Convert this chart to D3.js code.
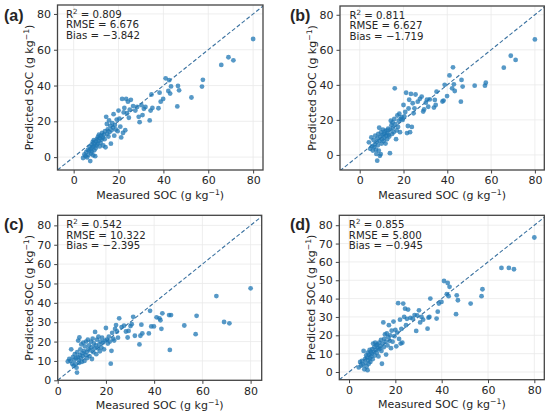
<!DOCTYPE html>
<html>
<head>
<meta charset="utf-8">
<script src="https://cdn.jsdelivr.net/npm/d3@7"></script>
<style>
  html, body { margin: 0; padding: 0; background: #fff; }
  svg { display: block; }
  text { font-family: "DejaVu Sans", sans-serif; fill: #262626; }
</style>
</head>
<body>
<svg id="chart" width="550" height="415"></svg>
<script>
// ---- data ----
const measured = [
  4.2,4.8,5.3,5.6,6.0,6.3,6.6,6.9,7.1,7.4,7.6,7.8,8.0,8.1,8.3,8.5,8.7,8.9,9.0,9.2,9.4,9.6,9.8,10.0,10.2,10.4,
  10.6,10.9,11.1,11.3,11.6,11.8,12.0,12.2,12.5,12.7,13.0,13.2,13.5,13.8,14.0,14.2,14.5,14.8,15.0,15.2,15.5,15.8,16.0,
  16.3,16.6,16.9,17.2,17.5,17.8,18.1,18.4,18.8,19.2,19.6,20.0,20.4,20.8,21.2,21.6,22.0,22.3,22.6,23.0,23.4,23.8,24.2,24.6,25.0,25.5,
  26.5,27.5,28.3,29.0,29.4,30.2,30.7,31.3,32.0,33.9,34.3,34.7,35.1,37.8,38.3,38.8,39.9,41.0,42.2,42.6,43.0,43.4,46.2,46.5,47.0,
  52.5,57.2,57.6,65.8,69.0,71.2,80.0
];
const predictedA = [
  -0.5,1.5,0.5,2.8,-0.2,4.0,1.2,3.5,5.8,-2.2,4.5,2.0,7.0,3.2,5.5,8.5,1.0,6.2,9.5,3.8,7.5,0.5,5.0,8.8,6.5,10.2,
  7.5,11.5,9.0,12.5,6.0,10.5,8.0,12.0,9.8,13.5,11.0,6.5,12.5,10.0,14.5,5.5,22.5,18.5,13.0,15.5,11.5,20.5,14.0,
  17.5,7.5,15.0,19.0,16.5,24.0,12.0,18.0,15.5,21.0,14.5,26.0,21.5,17.0,11.0,32.5,13.5,25.0,27.5,15.0,32.5,24.5,31.0,22.0,26.5,32.0,
  28.5,26.0,28.0,22.5,19.5,29.0,23.5,27.0,28.0,20.5,26.0,35.0,27.5,27.3,36.0,31.0,32.5,44.0,37.0,43.0,35.5,39.5,28.3,39.8,37.3,
  33.3,39.4,43.2,51.5,55.8,54.1,66.0
];
const predictedB = [
  7.2,3.5,10.0,5.0,2.5,8.5,4.5,6.0,11.0,3.0,0.6,7.5,-3.3,9.5,5.5,12.0,2.5,15.5,8.0,-0.5,10.5,0.5,13.0,6.5,9.0,11.5,
  14.5,8.0,12.0,10.0,13.5,6.5,11.0,14.0,9.0,12.5,15.0,11.5,10.5,1.0,14.5,19.5,17.0,12.0,18.5,15.5,13.0,20.5,38.0,
  17.5,9.0,14.0,22.5,16.0,19.5,23.5,13.0,20.5,21.5,20.0,28.5,22.0,24.5,35.5,12.5,16.5,26.5,31.5,13.0,34.8,16.0,29.5,23.8,26.6,34.5,
  30.4,32.0,33.3,24.8,26.0,29.8,31.5,27.5,31.7,27.0,31.4,28.5,36.1,30.5,31.0,40.0,33.6,45.4,38.0,50.0,40.3,36.5,30.4,42.8,39.0,
  39.5,39.5,41.2,49.8,56.6,54.2,65.9
];
const predictedC = [
  9.7,11.0,10.0,16.0,8.5,12.0,7.5,10.5,13.5,8.3,11.5,6.5,4.0,14.5,12.0,20.5,10.5,9.0,22.1,13.0,16.0,11.5,18.5,9.5,14.0,12.5,
  19.5,15.0,10.0,17.5,13.0,20.0,14.5,11.5,21.0,16.0,18.0,12.5,15.5,20.0,17.0,11.0,21.5,14.5,19.0,16.5,25.0,18.0,13.5,
  21.0,16.5,22.5,18.5,15.0,20.0,17.0,22.0,19.5,16.0,20.5,27.0,21.0,19.0,22.5,20.0,8.6,15.2,24.5,21.5,20.5,26.5,28.5,25.2,22.0,32.0,
  27.5,28.2,25.2,22.1,25.5,28.0,29.0,32.8,23.0,18.5,23.0,28.7,24.2,24.2,35.9,27.8,27.8,32.5,32.0,31.0,26.6,34.6,33.7,15.7,33.7,
  28.3,23.8,33.3,43.5,30.1,29.4,47.5
];
const predictedD = [
  2.5,5.5,3.5,6.0,4.0,11.5,1.5,7.0,5.0,9.0,3.0,8.0,1.0,10.5,6.5,4.5,9.5,12.0,7.5,5.5,11.0,8.5,10.0,12.5,7.0,15.5,
  11.0,13.5,9.0,16.0,12.0,14.5,10.5,15.0,13.0,8.5,16.0,12.5,14.0,17.5,11.5,4.5,15.5,27.0,13.5,18.0,20.5,16.5,9.5,
  21.0,14.5,19.0,25.5,17.0,20.0,13.0,22.5,16.5,27.5,19.5,23.0,14.0,21.5,37.5,18.0,28.5,15.5,23.5,16.0,37.3,30.0,34.5,25.5,29.0,34.0,
  29.5,29.1,31.0,22.4,30.9,33.6,27.0,30.0,28.5,23.6,29.6,30.0,40.0,29.1,32.9,37.3,38.2,49.6,42.4,48.5,41.3,46.4,31.5,41.8,39.1,
  37.3,41.3,45.1,56.7,56.7,56.0,73.3
];
const panelLabels = ["(a)", "(b)", "(c)", "(d)"];
const r2Values = ["0.809", "0.811", "0.542", "0.855"];
const rmseValues = ["6.676", "6.627", "10.322", "5.800"];
const biasValues = ["\u22123.842", "\u22121.719", "\u22122.395", "\u22120.945"];
const xTicks = [0, 20, 40, 60, 80];
const yTicksTop = [0, 20, 40, 60, 80];
const yTicksBottom = [0, 10, 20, 30, 40, 50, 60, 70, 80];

// ---- layout (axis limits & plot boxes) ----
const panels = [
  { pred: predictedA, yTicks: yTicksTop, xDom: [-7.2, 84.4], yDom: [-7.2, 85.0], box: { x0: 57.5, x1: 263.0, y0: 5.0, y1: 170.0 }, labX: 4, labY: 20.5 },
  { pred: predictedB, yTicks: yTicksTop, xDom: [-9.0, 84.3], yDom: [-8.6, 85.0], box: { x0: 340.0, x1: 544.3, y0: 6.0, y1: 170.0 }, labX: 290, labY: 20.5 },
  { pred: predictedC, yTicks: yTicksBottom, xDom: [0, 84.6], yDom: [0, 85.2], box: { x0: 57.7, x1: 261.7, y0: 215.3, y1: 380.3 }, labX: 4, labY: 229.5 },
  { pred: predictedD, yTicks: yTicksBottom, xDom: [-4.2, 84.3], yDom: [-4.2, 85.4], box: { x0: 339.3, x1: 544.3, y0: 215.3, y1: 379.7 }, labX: 290, labY: 229.5 }
];

const svg = d3.select("#chart");
const frameColor = "#444";
const pointColor = "#1f77b4";

panels.forEach((p, i) => {
  const b = p.box;
  const x = d3.scaleLinear().domain(p.xDom).range([b.x0, b.x1]);
  const y = d3.scaleLinear().domain(p.yDom).range([b.y1, b.y0]);
  const g = svg.append("g");

  const clipId = "clip" + i;
  svg.append("clipPath").attr("id", clipId)
    .append("rect").attr("x", b.x0).attr("y", b.y0)
    .attr("width", b.x1 - b.x0).attr("height", b.y1 - b.y0);

  // grid
  const grid = g.append("g");
  grid.selectAll("line.gx").data(xTicks).join("line")
    .attr("class", "gx")
    .attr("x1", d => x(d)).attr("x2", d => x(d))
    .attr("y1", b.y0).attr("y2", b.y1)
    .attr("stroke", "#eaeaea").attr("stroke-width", 0.8);
  grid.selectAll("line.gy").data(p.yTicks).join("line")
    .attr("class", "gy")
    .attr("y1", d => y(d)).attr("y2", d => y(d))
    .attr("x1", b.x0).attr("x2", b.x1)
    .attr("stroke", "#eaeaea").attr("stroke-width", 0.8);

  // 1:1 line
  const lo = Math.min(p.xDom[0], p.yDom[0]);
  const hi = Math.max(p.xDom[1], p.yDom[1]);
  g.append("line")
    .attr("clip-path", `url(#${clipId})`)
    .attr("x1", x(lo)).attr("y1", y(lo))
    .attr("x2", x(hi)).attr("y2", y(hi))
    .attr("stroke", "#3b72a0").attr("stroke-width", 1.1)
    .attr("stroke-dasharray", "4,2.2");

  // points
  const pts = measured.map((m, k) => ({ m: m, v: p.pred[k] }));
  g.append("g").attr("clip-path", `url(#${clipId})`)
    .selectAll("circle").data(pts).join("circle")
    .attr("cx", d => x(d.m)).attr("cy", d => y(d.v))
    .attr("r", 2.4)
    .attr("fill", pointColor).attr("fill-opacity", 0.75);

  // axes
  const xAxis = d3.axisBottom(x).tickValues(xTicks).tickSize(3.5).tickPadding(3).tickFormat(d3.format("d"));
  const yAxis = d3.axisLeft(y).tickValues(p.yTicks).tickSize(3.5).tickPadding(3).tickFormat(d3.format("d"));
  const gx = g.append("g").attr("transform", `translate(0,${b.y1})`).call(xAxis);
  const gy = g.append("g").attr("transform", `translate(${b.x0},0)`).call(yAxis);
  [gx, gy].forEach(ax => {
    ax.select(".domain").remove();
    ax.selectAll(".tick line").attr("stroke", frameColor).attr("stroke-width", 1);
    ax.selectAll(".tick text").attr("font-size", 11).attr("font-family", "DejaVu Sans").attr("fill", "#262626");
  });

  // frame
  g.append("rect")
    .attr("x", b.x0).attr("y", b.y0)
    .attr("width", b.x1 - b.x0).attr("height", b.y1 - b.y0)
    .attr("fill", "none").attr("stroke", frameColor).attr("stroke-width", 1.3);

  // axis labels
  const cx = (b.x0 + b.x1) / 2, cy = (b.y0 + b.y1) / 2;
  const xl = g.append("text").attr("x", cx).attr("y", b.y1 + 28.5)
    .attr("text-anchor", "middle").attr("font-size", 11);
  xl.append("tspan").text("Measured SOC (g kg");
  xl.append("tspan").attr("font-size", 7.7).attr("dy", -4).text("\u22121");
  xl.append("tspan").attr("dy", 4).text(")");

  const yl = g.append("text")
    .attr("transform", `translate(${b.x0 - 24.5},${cy}) rotate(-90)`)
    .attr("text-anchor", "middle").attr("font-size", 11);
  yl.append("tspan").text("Predicted SOC (g kg");
  yl.append("tspan").attr("font-size", 7.7).attr("dy", -4).text("\u22121");
  yl.append("tspan").attr("dy", 4).text(")");

  // stats annotation
  const ax0 = b.x0 + (i % 2 === 0 ? 8.5 : 9.5);
  const ay0 = b.y0 + 12.8;
  const fs = 10.2;
  const lh = 10.6;
  const t1 = g.append("text").attr("x", ax0).attr("y", ay0).attr("font-size", fs);
  t1.append("tspan").text("R");
  t1.append("tspan").attr("font-size", 7.1).attr("dy", -3.8).text("2");
  t1.append("tspan").attr("dy", 3.8).text(" = " + r2Values[i]);
  g.append("text").attr("x", ax0).attr("y", ay0 + lh).attr("font-size", fs)
    .text("RMSE = " + rmseValues[i]);
  g.append("text").attr("x", ax0).attr("y", ay0 + 2 * lh).attr("font-size", fs)
    .text("Bias = " + biasValues[i]);

  // panel label
  g.append("text").attr("x", p.labX).attr("y", p.labY)
    .attr("font-weight", "bold").attr("font-size", 16)
    .style("font-family", "'Liberation Sans', Arial, sans-serif")
    .text(panelLabels[i]);
});
</script>
</body>
</html>
